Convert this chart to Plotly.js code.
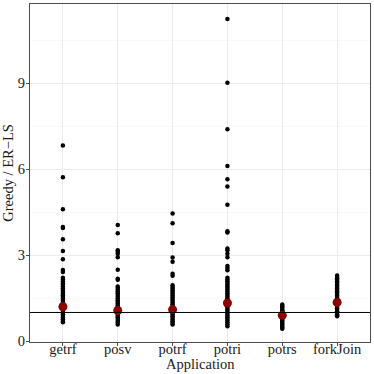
<!DOCTYPE html>
<html>
<head>
<meta charset="utf-8">
<script src="https://cdn.plot.ly/plotly-3.0.1.min.js"></script>
<style>
  html, body { margin: 0; padding: 0; background: #fff; }
  #graphDiv { width: 374px; height: 374px; }
</style>
</head>
<body>
<div id="graphDiv"></div>
<script>
// categories along the x axis
const apps = ["getrf", "posv", "potrf", "potri", "potrs", "forkJoin"];

// ratio values, one list per application
const getrf = [6.82, 5.72, 4.60, 3.98, 3.95, 3.55, 3.14, 2.86, 2.48, 2.41, 2.21,
  2.14, 2.08, 2.02, 1.96, 1.90, 1.84, 1.78, 1.72, 1.66, 1.60, 1.54, 1.48, 1.42, 1.36,
  1.30, 1.24, 1.18, 1.12, 1.06, 1.00, 0.94, 0.88, 0.82, 0.76, 0.70, 0.66];
const posv = [4.05, 3.76, 3.17, 3.11, 3.05, 2.93, 2.49, 2.18, 2.14,
  1.91, 1.85, 1.79, 1.73, 1.67, 1.61, 1.55, 1.49, 1.43, 1.37, 1.31, 1.25, 1.19,
  1.13, 1.07, 1.01, 0.95, 0.89, 0.83, 0.77, 0.71, 0.65, 0.58];
const potrf = [4.45, 4.11, 3.42, 2.92, 2.77, 2.35, 2.28,
  1.95, 1.89, 1.83, 1.77, 1.71, 1.65, 1.59, 1.53, 1.47, 1.41, 1.35, 1.29, 1.23,
  1.17, 1.11, 1.05, 0.99, 0.93, 0.87, 0.81, 0.75, 0.69, 0.63, 0.58];
const potri = [11.24, 9.01, 7.39, 6.11, 5.65, 5.39, 4.76, 3.83, 3.79, 3.23, 3.17,
  3.05, 2.93, 2.62, 2.55, 2.47, 2.21, 2.15, 2.09, 2.03, 1.97, 1.91, 1.85, 1.79, 1.73,
  1.67, 1.61, 1.55, 1.49, 1.43, 1.37, 1.31, 1.25, 1.19, 1.13, 1.07, 1.01, 0.95,
  0.89, 0.83, 0.77, 0.71, 0.65, 0.59, 0.52];
const potrs = [1.28, 1.23, 1.18, 1.13, 1.08, 1.03, 0.98, 0.93, 0.88, 0.83, 0.78,
  0.73, 0.68, 0.63, 0.58, 0.53, 0.48, 0.43];
const forkJoin = [2.29, 2.24, 2.19, 2.14, 2.09, 2.04, 1.99, 1.94, 1.89, 1.84, 1.79,
  1.74, 1.69, 1.64, 1.59, 1.54, 1.49, 1.44, 1.39, 1.34, 1.29, 1.24, 1.19, 1.14,
  1.09, 1.04, 0.99, 0.94, 0.90, 0.87];

// mean per application (red dots)
const means = [1.20, 1.07, 1.10, 1.33, 0.90, 1.35];

// reference line
const baseline = 1;

const series = [getrf, posv, potrf, potri, potrs, forkJoin];
let px = [];
let py = [];
series.forEach(function (vals, i) {
  vals.forEach(function (v) {
    px.push(apps[i]);
    py.push(v);
  });
});

const data = [
  {
    x: px,
    y: py,
    type: 'scatter',
    mode: 'markers',
    marker: { color: '#000000', size: 4.5 },
    hoverinfo: 'none',
    cliponaxis: false
  },
  {
    x: apps,
    y: means,
    type: 'scatter',
    mode: 'markers',
    marker: { color: '#8B0000', size: 9 },
    hoverinfo: 'none'
  }
];

const font = { family: '"Liberation Serif", "Times New Roman", serif', size: 14.5, color: '#1a1a1a' };

const layout = {
  width: 374,
  height: 374,
  margin: { l: 30, r: 4, t: 4, b: 32 },
  paper_bgcolor: '#ffffff',
  plot_bgcolor: '#ffffff',
  showlegend: false,
  font: font,
  xaxis: {
    type: 'category',
    categoryorder: 'array',
    categoryarray: apps,
    range: [-0.6, 5.6],
    showgrid: true,
    gridcolor: '#EBEBEB',
    gridwidth: 1,
    zeroline: false,
    showline: true,
    linecolor: '#4d4d4d',
    mirror: true,
    ticks: 'outside',
    ticklen: 3,
    tickcolor: '#4d4d4d',
    tickfont: font,
    ticklabelstandoff: -9
  },
  yaxis: {
    range: [-0.03, 11.76],
    tickvals: [0, 3, 6, 9],
    ticktext: ['0', '3', '6', '9'],
    showgrid: true,
    gridcolor: '#EBEBEB',
    gridwidth: 1,
    minor: { tickvals: [1.5, 4.5, 7.5, 10.5], showgrid: true, gridcolor: '#F3F3F3', gridwidth: 0.6, ticks: '' },
    zeroline: false,
    showline: true,
    linecolor: '#4d4d4d',
    mirror: true,
    ticks: 'outside',
    ticklen: 3,
    tickcolor: '#4d4d4d',
    tickfont: font,
    ticklabelstandoff: -2,
    title: { text: 'Greedy / ER\u2212LS', font: font, standoff: 3 }
  },
  annotations: [
    {
      text: 'Application',
      xref: 'paper',
      yref: 'paper',
      x: 0.5,
      y: -0.0655,
      xanchor: 'center',
      yanchor: 'middle',
      showarrow: false,
      font: font
    }
  ],
  shapes: [
    {
      type: 'line',
      xref: 'paper',
      yref: 'y',
      x0: 0,
      x1: 1,
      y0: baseline,
      y1: baseline,
      line: { color: '#000000', width: 1 }
    }
  ]
};

Plotly.newPlot('graphDiv', data, layout, { staticPlot: true });
</script>
</body>
</html>
